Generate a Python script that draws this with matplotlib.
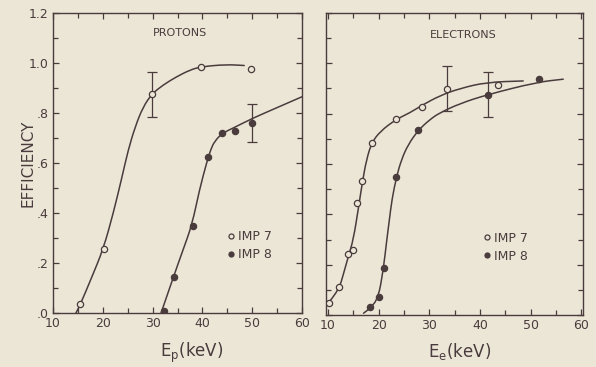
#!/usr/bin/env python3
# -*- coding: utf-8 -*-
"""
Detector efficiency vs energy, IMP 7 / IMP 8 (protons, electrons)
"""

# %% imports
import matplotlib
matplotlib.use("Agg")
import matplotlib.pyplot as plt
import matplotlib.patches as patches
from matplotlib.path import Path
import numpy as np

# %% data
# protons, IMP 7 (open)
pE7 = [15.4, 20.2, 29.9, 39.7, 49.7]
pEff7 = [0.035, 0.256, 0.875, 0.985, 0.975]
pErr7 = [0.0, 0.0, 0.09, 0.0, 0.0]
# protons, IMP 8 (filled)
pE8 = [32.2, 34.3, 38.1, 41.1, 43.9, 46.5, 49.9]
pEff8 = [0.01, 0.145, 0.35, 0.625, 0.72, 0.73, 0.76]
pErr8 = [0.0, 0.0, 0.0, 0.0, 0.0, 0.0, 0.075]
# fitted curves (traced)
pFitE7 = [14.6, 15.4, 17.7, 20.1, 22.1, 23.8, 25.1, 26.5, 28.1, 29.9, 32.1,
          34.8, 37.5, 39.7, 44.7, 48.4]
pFitEff7 = [0.0, 0.03, 0.139, 0.256, 0.399, 0.539, 0.652, 0.745, 0.825,
            0.877, 0.912, 0.945, 0.972, 0.985, 0.994, 0.99]
pFitE8 = [31.7, 34.2, 36.1, 37.9, 39.4, 40.9, 41.7, 42.4, 43.9, 46.7, 50.1,
          54.7, 60.0]
pFitEff8 = [0.0, 0.145, 0.252, 0.352, 0.492, 0.605, 0.655, 0.685, 0.718,
            0.745, 0.779, 0.819, 0.865]

# electrons, IMP 7 (open)
eE7 = [10.2, 12.2, 14.0, 15.0, 15.8, 16.8, 18.6, 23.4, 28.5, 33.5, 43.6]
eEff7 = [0.049, 0.11, 0.243, 0.259, 0.445, 0.531, 0.684, 0.777, 0.828, 0.899,
         0.912]
eErr7 = [0, 0, 0, 0, 0, 0, 0, 0, 0, 0.09, 0]
# electrons, IMP 8 (filled)
eE8 = [18.2, 20.0, 21.0, 23.5, 27.8, 41.6, 51.6]
eEff8 = [0.033, 0.073, 0.186, 0.549, 0.734, 0.876, 0.936]
eErr8 = [0, 0, 0, 0, 0, 0.09, 0]
eFitE7 = [10.0, 12.2, 13.0, 14.0, 15.0, 16.0, 16.8, 17.6, 18.6, 20.3, 23.4,
          26.2, 28.5, 32.1, 36.0, 41.3, 48.5]
eFitEff7 = [0.045, 0.105, 0.160, 0.232, 0.30, 0.425, 0.531, 0.618, 0.684,
            0.730, 0.777, 0.804, 0.833, 0.872, 0.90, 0.925, 0.93]
eFitE8 = [17.0, 18.3, 19.9, 20.9, 21.6, 22.1, 22.6, 23.5, 24.5, 25.8, 27.8,
          30.1, 32.1, 36.0, 41.3, 51.2, 56.4]
eFitEff8 = [0.007, 0.027, 0.066, 0.179, 0.30, 0.378, 0.458, 0.549, 0.618,
            0.677, 0.734, 0.777, 0.804, 0.84, 0.875, 0.925, 0.937]

xTicks = [10, 20, 30, 40, 50, 60]
yTicks = [0.0, 0.2, 0.4, 0.6, 0.8, 1.0, 1.2]
yTickLabels = [".0", ".2", ".4", ".6", ".8", "1.0", "1.2"]

# %% style
bg = "#ece6d7"
ink = "#4a3c3d"
plt.rcParams["font.family"] = "DejaVu Sans"
plt.rcParams["axes.edgecolor"] = ink
plt.rcParams["text.color"] = ink
plt.rcParams["xtick.color"] = ink
plt.rcParams["ytick.color"] = ink

fig = plt.figure(figsize=(5.96, 3.67), dpi=100, facecolor=bg)
axL = fig.add_axes([53/596, 1-313/367, 249/596, 300/367])
axR = fig.add_axes([326/596, 1-315/367, 257/596, 302/367])


def styleAx(ax, xlim, showY):
    ax.set_facecolor(bg)
    ax.set_xlim(*xlim)
    ax.set_ylim(0, 1.2)
    ax.set_xticks(xTicks)
    ax.set_xticklabels([str(t) for t in xTicks], fontsize=9)
    ax.set_xticks(np.arange(15, 60, 10), minor=True)
    ax.set_yticks(yTicks)
    ax.set_yticks(np.arange(0.1, 1.2, 0.2), minor=True)
    if showY:
        ax.set_yticklabels(yTickLabels, fontsize=9)
    else:
        ax.set_yticklabels([])
    ax.tick_params(which="both", direction="in", top=True, right=True,
                   width=0.9, pad=3)
    ax.tick_params(which="major", length=4)
    ax.tick_params(which="minor", length=3.5)
    for s in ax.spines.values():
        s.set_linewidth(1.0)


def smoothCurve(ax, xs, ys):
    # quadratic bezier through the midpoints of the traced points
    pts = np.column_stack([xs, ys])
    verts = [pts[0], (pts[0] + pts[1]) / 2]
    codes = [Path.MOVETO, Path.LINETO]
    for i in range(1, len(pts) - 1):
        verts += [pts[i], (pts[i] + pts[i+1]) / 2]
        codes += [Path.CURVE3, Path.CURVE3]
    verts.append(pts[-1])
    codes.append(Path.LINETO)
    ax.add_patch(patches.PathPatch(Path(verts, codes), fill=False,
                                   edgecolor=ink, lw=1.1, zorder=2,
                                   capstyle="round", joinstyle="round"))


def panel(ax, fits, pts):
    for fe, ff in fits:
        smoothCurve(ax, fe, ff)
    (e7, f7, r7), (e8, f8, r8) = pts
    ax.errorbar(e7, f7, yerr=[r if r > 0 else np.nan for r in r7], fmt="none",
                ecolor=ink, elinewidth=0.9, capsize=3.5, capthick=0.9, zorder=3)
    ax.errorbar(e8, f8, yerr=[r if r > 0 else np.nan for r in r8], fmt="none",
                ecolor=ink, elinewidth=0.9, capsize=3.5, capthick=0.9, zorder=3)
    ax.plot(e7, f7, "o", ms=4.5, mfc=bg, mec=ink, mew=0.9, ls="none",
            zorder=4, label="IMP 7")
    ax.plot(e8, f8, "o", ms=4.5, mfc=ink, mec=ink, mew=0.9, ls="none",
            zorder=4, label="IMP 8")


styleAx(axL, (10, 60), True)
styleAx(axR, (9.6, 60.3), False)

panel(axL, [(pFitE7, pFitEff7), (pFitE8, pFitEff8)],
      [(pE7, pEff7, pErr7), (pE8, pEff8, pErr8)])
panel(axR, [(eFitE7, eFitEff7), (eFitE8, eFitEff8)],
      [(eE7, eEff7, eErr7), (eE8, eEff8, eErr8)])

axL.legend(loc="center left", bbox_to_anchor=(0.655, 0.225), frameon=False,
           handlelength=0.6, handletextpad=0.25, labelspacing=0.4,
           fontsize=9, markerscale=0.8, labelcolor=ink)
axR.legend(loc="center left", bbox_to_anchor=(0.57, 0.225), frameon=False,
           handlelength=0.6, handletextpad=0.25, labelspacing=0.4,
           fontsize=9, markerscale=0.8, labelcolor=ink)

axL.text(0.51, 0.933, "PROTONS", transform=axL.transAxes, ha="center",
         va="center", fontsize=8)
axR.text(0.533, 0.927, "ELECTRONS", transform=axR.transAxes, ha="center",
         va="center", fontsize=8)

fig.text(28/596, 1-163/367, "EFFICIENCY", rotation=90, ha="center",
         va="center", fontsize=11)
fig.text(192/596, 1-357/367, r"E$_\mathregular{p}$(keV)", ha="center",
         va="baseline", fontsize=12)
fig.text(460/596, 1-357/367, r"E$_\mathregular{e}$(keV)", ha="center",
         va="baseline", fontsize=12)

fig.savefig("out.png", dpi=100, facecolor=bg)
